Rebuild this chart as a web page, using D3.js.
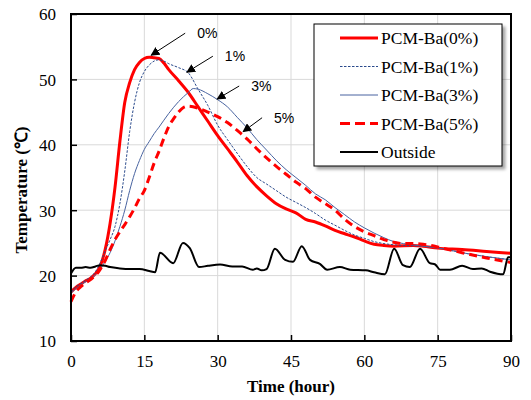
<!DOCTYPE html>
<html>
<head>
<meta charset="utf-8">
<script src="https://cdn.jsdelivr.net/npm/d3@7"></script>
<style>
  body { margin: 0; background: #fff; }
  .tick text { font-family: "Liberation Serif", "Times New Roman", serif; font-size: 17px; fill: #000; }
  .axisTitle { font-family: "Liberation Serif", "Times New Roman", serif; font-size: 17px; font-weight: bold; }
  .legendText { font-family: "Liberation Serif", "Times New Roman", serif; font-size: 17.5px; }
  .noteText { font-family: "Liberation Sans", Arial, sans-serif; font-size: 14px; }
</style>
</head>
<body>
<div class="chart"></div>
<script>
var svgWidth = 531;
var svgHeight = 400;

var margin = { top: 14, right: 20, bottom: 59, left: 71 };
var width = svgWidth - margin.left - margin.right;
var height = svgHeight - margin.top - margin.bottom;

// Data: [time (hour), temperature (C)]
var pcm0 = [[0,17.5],[1,18.2],[2,18.7],[3,19.2],[4,19.6],[5,20.3],[6,21.5],[7,24],[8,28],[9,33.5],[10,40.5],
  [11,46.5],[12,49.5],[13,51.5],[14,52.6],[15,53.2],[16,53.4],[17,53.3],[18,53.2],[19,52.5],[20,51.5],[22,49.8],
  [24,48],[26,45.8],[28,43.6],[30,41.4],[32,39.4],[34,37.4],[36,35.3],[38,33.6],[40,32.2],[42,31],[44,30.2],
  [46,29.6],[48,28.6],[50,28.2],[52,27.6],[54,26.9],[56,26.4],[58,25.9],[60,25.3],[62,24.8],[64,24.6],[66,24.5],
  [70,24.6],[72,24.5],[75,24.2],[80,24],[85,23.7],[90,23.4]];

var pcm1 = [[0,17.5],[1,18.3],[2,18.8],[3,19.3],[4,19.8],[5,20.6],[6,22],[7,23.8],[8,25.5],[9,27.5],[10,31],
  [11,36],[12,42],[13,46.5],[14,49.5],[15,51.2],[16,52.2],[17,52.8],[18,53],[19,52.8],[20,52.4],[22,51.8],
  [24,51],[26,48.5],[28,46],[30,43],[32,40.8],[34,38.7],[36,36.7],[38,35],[40,34],[42,33],[44,32],[46,31.2],
  [48,30.4],[50,29.5],[52,28.5],[54,27.7],[56,26.9],[58,26.2],[60,25.7],[62,25.2],[64,24.9],[68,24.6],
  [72,24.5],[76,24.1],[80,23.5],[85,22.9],[90,22.4]];

var pcm3 = [[0,17.3],[2,18.6],[4,19.5],[6,21],[7,22.2],[8,23.5],[9,25.3],[10,27.5],[11,30],[12,33],[13,35.6],
  [14,37.6],[15,39.3],[16,40.5],[17,41.7],[18,42.7],[20,44.8],[22,46.6],[24,48],[25,48.6],[26,48.5],[28,47.8],
  [30,46.9],[32,45.8],[34,44.2],[36,42.6],[38,40.8],[40,39.2],[42,37.6],[44,36.2],[46,35],[48,33.8],[50,32.5],
  [52,31.6],[54,30.4],[56,29.3],[58,28.2],[60,27.3],[62,26.5],[64,25.8],[66,25.2],[68,24.9],[72,24.5],
  [76,24.1],[80,23.5],[85,22.9],[90,22.4]];

var pcm5 = [[0,16],[1,17.5],[2,18.3],[3,18.9],[4,19.4],[5,20],[6,21],[7,22.3],[8,24],[9,25.5],[10,26.7],
  [11,27.8],[12,29],[13,30.3],[14,31.8],[15,33],[16,35],[17,37.2],[18,39],[19,41],[20,42.8],[21,44],[22,45],
  [23,45.7],[24,45.9],[26,45.6],[28,45],[30,44.3],[32,43.4],[34,42.2],[36,40.9],[38,39.4],[40,38],[42,36.7],
  [44,35.5],[46,34.3],[48,33.3],[50,32],[52,31],[54,30],[56,28.6],[58,27.5],[60,26.7],[62,26.1],[64,25.5],
  [66,25.1],[68,24.9],[70,24.9],[72,24.8],[76,24.2],[80,23.5],[85,22.7],[90,22]];

var outside = [[0,20.3],[1,21.2],[2,21.2],[3,21.3],[4,21.2],[5,21.4],[6,21.6],[7,21.5],[8,21.3],[10,21.1],
  [12,21],[14,21],[16,20.7],[17.2,20.5],[18.2,23.5],[20.9,21.9],[22.9,25],[24.3,24.2],[26.2,21.3],[28,21.5],
  [30.5,21.7],[33,21.4],[35,21.4],[37.2,20.9],[38,21.1],[39,20.8],[40,21],[41.7,24.1],[43.8,22.4],[45.4,22.1],
  [47.2,24.5],[48.9,22.4],[50.9,21.8],[52.4,20.9],[55,21.3],[57.1,20.9],[60.3,20.8],[62,20.5],[64.2,20.2],
  [66.1,24.1],[67.9,21.6],[69.3,21.3],[71.4,24.1],[73.4,21.9],[74.5,21.7],[75.5,20.9],[77.5,20.9],[80,21.5],
  [82.2,21],[84,21.1],[85.7,20.6],[88.4,20.2],[89.4,22.8],[90,22.8]];

var xTicks = [0, 15, 30, 45, 60, 75, 90];
var yTicks = [10, 20, 30, 40, 50, 60];

var seriesNames = ["PCM-Ba(0%)", "PCM-Ba(1%)", "PCM-Ba(3%)", "PCM-Ba(5%)", "Outside"];

// arrow tips on the curves: [label, time, temperature]
var notes = [["0%", 16.4, 53.7], ["1%", 23.7, 51.1], ["3%", 29.9, 47], ["5%", 35.2, 42]];

var series = [
  { name: seriesNames[0], data: pcm0, color: "#ff0000", w: 3, dash: null },
  { name: seriesNames[1], data: pcm1, color: "#2a4a8c", w: 1, dash: "2.5,1.5" },
  { name: seriesNames[2], data: pcm3, color: "#4863a0", w: 1, dash: null },
  { name: seriesNames[3], data: pcm5, color: "#ff0000", w: 3, dash: "8,5" },
  { name: seriesNames[4], data: outside, color: "#000000", w: 2, dash: null }
];

var svg = d3.select(".chart")
  .append("svg")
  .attr("width", svgWidth)
  .attr("height", svgHeight);

var defs = svg.append("defs");
defs.append("marker")
  .attr("id", "arrow")
  .attr("viewBox", "0 0 10 10")
  .attr("refX", 9)
  .attr("refY", 5)
  .attr("markerWidth", 9)
  .attr("markerHeight", 9)
  .attr("markerUnits", "userSpaceOnUse")
  .attr("orient", "auto")
  .append("path")
  .attr("d", "M0,0 L10,5 L0,10 z")
  .attr("fill", "#000");

var shadow = defs.append("filter").attr("id", "shadow")
  .attr("x", "-10%").attr("y", "-10%").attr("width", "130%").attr("height", "130%");
shadow.append("feDropShadow")
  .attr("dx", 3).attr("dy", 3).attr("stdDeviation", 1.5)
  .attr("flood-color", "#000").attr("flood-opacity", 0.35);

var chartGroup = svg.append("g")
  .attr("transform", `translate(${margin.left}, ${margin.top})`);

var x = d3.scaleLinear().domain([0, 90]).range([0, width]);
var y = d3.scaleLinear().domain([10, 60]).range([height, 0]);

// gridlines
chartGroup.append("g")
  .selectAll("line.vgrid")
  .data(xTicks.slice(1, -1))
  .enter()
  .append("line")
  .attr("x1", d => x(d)).attr("x2", d => x(d))
  .attr("y1", 0).attr("y2", height)
  .attr("stroke", "#d9d9d9").attr("stroke-width", 1);

chartGroup.append("g")
  .selectAll("line.hgrid")
  .data(yTicks.slice(1, -1))
  .enter()
  .append("line")
  .attr("x1", 0).attr("x2", width)
  .attr("y1", d => y(d)).attr("y2", d => y(d))
  .attr("stroke", "#d9d9d9").attr("stroke-width", 1);

// axes
var bottomAxis = d3.axisBottom(x).tickValues(xTicks).tickSize(-6).tickPadding(14);
var leftAxis = d3.axisLeft(y).tickValues(yTicks).tickSize(-6).tickPadding(15);

chartGroup.append("g")
  .attr("transform", `translate(0, ${height})`)
  .call(bottomAxis)
  .call(g => g.select(".domain").remove())
  .call(g => g.selectAll(".tick line").attr("stroke", "#000").attr("stroke-width", 1.5));

chartGroup.append("g")
  .call(leftAxis)
  .call(g => g.select(".domain").remove())
  .call(g => g.selectAll(".tick line").attr("stroke", "#000").attr("stroke-width", 1.5))
  .call(g => g.selectAll(".tick text").attr("dy", "0.35em"));

// lines
var line = d3.line()
  .x(d => x(d[0]))
  .y(d => y(d[1]))
  .curve(d3.curveMonotoneX);

chartGroup.selectAll("path.series")
  .data(series)
  .enter()
  .append("path")
  .attr("class", "series")
  .attr("d", d => line(d.data))
  .attr("fill", "none")
  .attr("stroke", d => d.color)
  .attr("stroke-width", d => d.w)
  .attr("stroke-dasharray", d => d.dash)
  .attr("stroke-linejoin", "round");

// plot frame
chartGroup.append("rect")
  .attr("x", 0).attr("y", 0)
  .attr("width", width).attr("height", height)
  .attr("fill", "none")
  .attr("stroke", "#000")
  .attr("stroke-width", 2);

// annotations
var noteOffsets = [[34, -22], [26, -16], [22, -13], [19, -14]];
notes.forEach(function(n, i) {
  var hx = x(n[1]), hy = y(n[2]);
  var tx = hx + noteOffsets[i][0], ty = hy + noteOffsets[i][1];
  chartGroup.append("line")
    .attr("x1", tx).attr("y1", ty)
    .attr("x2", hx).attr("y2", hy)
    .attr("stroke", "#000")
    .attr("stroke-width", 1)
    .attr("marker-end", "url(#arrow)");
  chartGroup.append("text")
    .attr("class", "noteText")
    .attr("x", tx + 12)
    .attr("y", ty + 5)
    .text(n[0]);
});

// legend
var legend = svg.append("g").attr("transform", "translate(314, 24)");
legend.append("rect")
  .attr("width", 188).attr("height", 142)
  .attr("fill", "#fff")
  .attr("stroke", "#000")
  .attr("stroke-width", 1)
  .attr("filter", "url(#shadow)");

var items = legend.selectAll("g.item")
  .data(series)
  .enter()
  .append("g")
  .attr("class", "item")
  .attr("transform", (d, i) => `translate(0, ${14 + i * 28.5})`);

items.append("line")
  .attr("x1", 26).attr("x2", 64)
  .attr("stroke", d => d.color)
  .attr("stroke-width", d => d.w)
  .attr("stroke-dasharray", d => d.dash ? (d.w > 2 ? "10,5" : "2.5,1.5") : null);

items.append("text")
  .attr("class", "legendText")
  .attr("x", 67)
  .attr("dy", "0.35em")
  .text(d => d.name);

// axis titles
svg.append("text")
  .attr("class", "axisTitle")
  .attr("transform", "translate(27, 190) rotate(-90)")
  .attr("text-anchor", "middle")
  .text("Temperature (℃)");

svg.append("text")
  .attr("class", "axisTitle")
  .attr("x", margin.left + width / 2)
  .attr("y", 392)
  .attr("text-anchor", "middle")
  .text("Time (hour)");
</script>
</body>
</html>
